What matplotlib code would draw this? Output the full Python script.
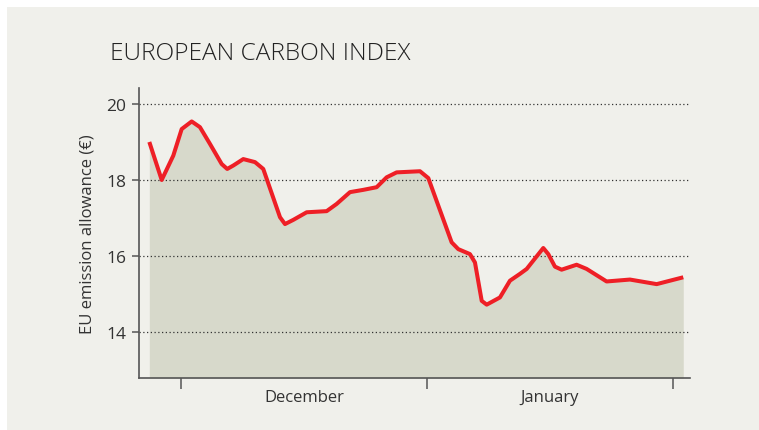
import matplotlib
matplotlib.use("Agg")
import matplotlib.pyplot as plt
from matplotlib.patches import Rectangle

# Days since 1 December
days = [-3.99, -2.43, -0.97, 0.09, 1.35, 2.39, 3.65, 5.13, 5.83, 6.59, 7.85, 9.33,
        10.37, 12.48, 13.11, 14.15, 15.84, 18.36, 19.62, 21.30, 22.97, 24.66, 25.92,
        27.18, 30.12, 31.17, 34.11, 34.95, 36.42, 37.05, 37.90, 38.53, 40.20, 41.46,
        42.72, 43.57, 45.66, 46.29, 47.13, 47.97, 49.86, 51.12, 53.64, 56.58, 59.95,
        63.30]
prices = [19.00, 18.00, 18.64, 19.34, 19.54, 19.39, 18.95, 18.42, 18.29, 18.38, 18.55,
          18.47, 18.29, 17.02, 16.84, 16.95, 17.15, 17.18, 17.37, 17.68, 17.74, 17.81,
          18.07, 18.20, 18.23, 18.05, 16.36, 16.18, 16.05, 15.83, 14.82, 14.72, 14.91,
          15.35, 15.53, 15.66, 16.21, 16.05, 15.72, 15.64, 15.77, 15.66, 15.33, 15.38,
          15.26, 15.44]
month_edges = [0, 31, 62]
month_centers = [15.5, 46.5]
month_labels = ["December", "January"]
y_ticks = [14, 16, 18, 20]

BG = "#f0f0eb"
FILL = "#d7d9cb"
RED = "#ee1f26"
TXT = "#333333"

W, H = 759, 431
fig = plt.figure(figsize=(W / 100, H / 100), dpi=100)
fig.patch.set_facecolor("white")
fig.patches.append(Rectangle((7 / W, 0), 1 - 7 / W, 1 - 8 / H, transform=fig.transFigure,
                             facecolor=BG, edgecolor="none", zorder=-10))

ax = fig.add_axes([139 / W, (H - 379) / H, (690 - 139) / W, (379 - 89) / H])
ax.set_facecolor(BG)
ymin, ymax = 12.79, 20.42
ax.set_xlim(-5.29, 64.15)
ax.set_ylim(ymin, ymax)

ax.fill_between(days, prices, ymin, color=FILL, lw=0, zorder=1)
ax.plot(days, prices, color=RED, lw=2.9, solid_joinstyle="round", solid_capstyle="butt", zorder=3)

for y in y_ticks:
    ax.axhline(y, color="#333333", lw=0.9, ls=(0, (1, 2)), zorder=2)

for s in ["top", "right"]:
    ax.spines[s].set_visible(False)
for s in ["left", "bottom"]:
    ax.spines[s].set_color("#555555")
    ax.spines[s].set_linewidth(1.2)

font = "Open Sans"
ax.set_yticks(y_ticks)
ax.set_yticklabels([str(v) for v in y_ticks], fontfamily=font, fontsize=12.5, color=TXT)
ax.tick_params(axis="y", length=5, width=1.1, color="#555555", pad=4)

ax.set_xticks(month_edges)
ax.set_xticklabels([])
ax.tick_params(axis="x", which="major", length=8, width=1.1, color="#555555")
ax.set_xticks(month_centers, minor=True)
ax.set_xticklabels(month_labels, minor=True, fontfamily=font, fontsize=12, color=TXT)
ax.tick_params(axis="x", which="minor", length=0, pad=8)

ax.set_ylabel("EU emission allowance (€)", fontfamily=font, fontsize=12, color=TXT, labelpad=8)

fig.text(110 / W, (H - 60) / H, "EUROPEAN CARBON INDEX", fontfamily=font, fontweight="light",
         fontsize=17.6, color="#222222", va="baseline", ha="left")

fig.savefig("out.png", dpi=100, facecolor=fig.get_facecolor())
